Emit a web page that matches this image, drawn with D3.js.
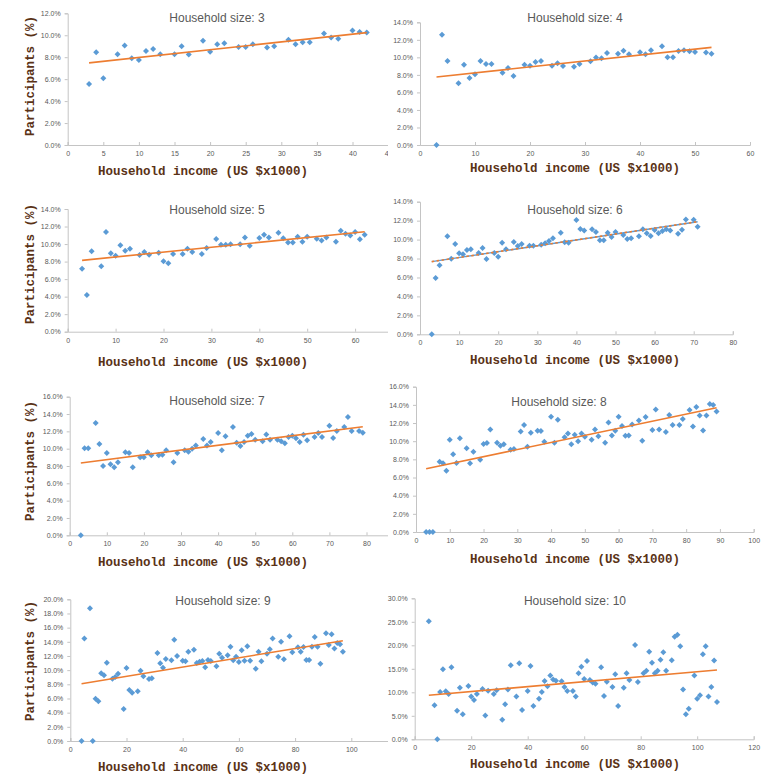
<!DOCTYPE html>
<html><head><meta charset="utf-8">
<script src="https://cdn.jsdelivr.net/npm/d3@7"></script>
<style>body{margin:0;background:#fff}svg{display:block}</style>
</head><body>
<svg id="c" width="763" height="777"></svg>
<script>
// ---- data (household income in US$ x1000, participants in %) ----
const income3 = [3,4,5,7,8,9,10,11,12,13,15,16,17,19,20,21,22,24,25,26,28,29,31,32,33,34,36,37,38,40,41,42];
const pct3 = [5.56,8.45,6.08,8.27,9.06,7.9,7.75,8.57,8.75,8.27,8.27,9.0,8.24,9.5,8.5,9.18,9.27,8.94,8.94,9.18,8.88,9.0,9.6,9.18,9.36,9.36,10.15,9.79,9.67,10.43,10.3,10.24];
const trend3 = [[3,7.48],[42,10.24]];

const income4 = [3,4,5,7,8,9,10,11,12,13,15,16,17,19,20,21,22,24,25,26,28,29,31,32,33,34,36,37,38,40,41,42,44,45,46,47,48,49,50,52,53];
const pct4 = [0,12.59,9.58,7.04,9.17,7.65,8.06,9.58,9.24,9.24,8.25,8.79,7.87,9.17,9.05,9.47,9.58,9.05,9.32,9.01,8.94,9.24,9.55,9.97,9.89,10.5,10.42,10.76,10.35,10.57,10.35,10.8,11.26,10.0,10.0,10.73,10.8,10.69,10.61,10.54,10.42];
const trend4 = [[3,7.76],[53,11.14]];

const income5 = [3,4,5,7,8,9,10,11,12,13,15,16,17,19,20,21,22,24,25,26,28,29,31,32,33,34,36,37,38,40,41,42,44,45,46,47,48,49,50,52,53,54,56,57,58,59,60,61,62];
const pct5 = [7.19,4.18,9.17,7.46,11.37,8.94,8.67,9.85,9.24,9.47,8.75,9.09,8.79,9.01,8.03,7.8,8.86,8.86,9.47,9.09,8.86,9.55,10.57,9.93,9.93,9.97,9.97,10.76,9.81,10.69,11.07,10.76,11.3,10.65,10.19,10.19,10.84,10.27,10.84,10.61,10.42,10.76,10.27,11.53,11.18,10.99,11.37,10.54,11.07];
const trend5 = [[3,8.14],[62,11.41]];

const income6 = [3,4,5,7,8,9,10,11,12,13,15,16,17,19,20,21,22,24,25,26,28,29,31,32,33,34,36,37,38,40,41,42,44,45,46,47,48,49,50,52,53,54,56,57,58,59,60,61,62,63,64,66,67,68,70,71];
const pct6 = [0,5.94,7.28,10.34,7.98,9.53,8.55,8.44,8.9,8.97,8.58,9.11,7.95,8.58,8.2,9.67,8.97,9.74,9.32,9.53,9.36,9.36,9.46,9.6,9.85,10.13,10.73,9.71,9.67,12.06,11.11,10.97,11.08,10.8,9.92,9.92,10.73,10.27,10.8,10.48,10.06,10.13,10.34,11.08,10.66,10.38,11.01,10.66,10.9,11.08,10.97,10.62,11.04,12.13,12.1,11.36];
const trend6 = [[3,7.67],[71,11.89]];

const income7 = [3,4,5,7,8,9,10,11,12,13,15,16,17,19,20,21,22,24,25,26,28,29,31,32,33,34,36,37,38,40,41,42,44,45,46,47,48,49,50,52,53,54,56,57,58,59,60,61,62,63,64,66,67,68,70,71,72,74,75,76,78,79];
const pct7 = [0,10.04,10.04,12.96,10.54,8.0,9.5,8.19,7.85,8.42,9.58,9.5,7.85,9.0,9.0,9.58,9.23,9.23,9.31,9.81,8.42,9.5,9.81,9.65,10.0,10.38,11.12,10.38,10.77,11.81,9.81,11.42,12.5,10.69,10.31,10.77,11.5,11.69,11.04,10.85,11.65,11.04,11.04,10.85,10.62,11.35,11.5,11.19,10.77,11.62,10.96,11.35,11.81,11.35,12.65,11.23,12.04,12.5,13.65,12.04,12.04,11.85];
const trend7 = [[3,8.35],[79,12.54]];

const income8 = [3,4,5,7,8,9,10,11,12,13,15,16,17,19,20,21,22,24,25,26,28,29,31,32,33,34,36,37,38,40,41,42,44,45,46,47,48,49,50,52,53,54,56,57,58,59,60,61,62,63,64,66,67,68,70,71,72,74,75,76,78,79,81,82,83,84,85,86,87,88,89];
const pct8 = [0,0,0,7.74,7.56,6.75,10.17,8.55,7.6,10.31,9.21,7.56,8.84,7.96,9.69,9.8,11.3,9.83,9.5,9.65,9.06,9.14,11.08,11.78,9.39,10.94,11.16,11.12,9.94,12.7,9.83,12.37,10.42,10.86,9.65,10.72,9.98,10.86,10.5,10.17,11.3,10.53,9.83,12.07,10.64,11.16,12.7,11.67,10.61,10.64,11.85,12.29,10.06,12.66,11.23,13.5,11.3,11.01,12.88,11.78,11.78,12.44,13.43,11.63,13.76,12.84,11.19,12.84,14.09,13.98,13.28];
const trend8 = [[3,6.97],[89,13.69]];

const income9 = [4,5,7,8,9,10,11,12,13,15,16,17,19,20,21,22,24,25,26,28,29,31,32,33,34,36,37,38,40,41,42,44,45,46,47,48,49,50,52,53,54,56,57,58,59,60,61,62,63,64,66,67,68,70,71,72,74,75,76,78,79,81,82,83,84,85,86,87,88,89,91,92,93,94,95,96,97];
const pct9 = [0,14.45,18.73,0,5.98,5.6,9.55,9.27,11.06,8.8,9.04,9.5,4.52,10.3,7.2,6.82,7.01,9.93,9.13,8.75,8.85,12.42,10.96,10.35,11.58,11.39,14.3,12.0,11.34,11.25,12.61,12.89,11.01,11.2,11.29,10.4,11.44,11.29,10.54,12.33,11.76,12.09,13.32,11.39,11.9,11.15,12.8,11.34,13.36,11.34,10.21,12.61,11.25,12.33,12.94,14.45,11.9,14.02,11.53,14.78,12.52,13.22,12.61,13.27,11.44,11.44,13.32,14.68,13.32,10.92,15.2,13.55,15.06,13.04,13.84,13.65,12.61];
const trend9 = [[4,8.09],[97,14.16]];

const income10 = [5,7,8,9,10,11,12,13,15,16,17,19,20,21,22,24,25,26,28,29,31,32,33,34,36,37,38,40,41,42,44,45,46,47,48,49,50,52,53,54,56,57,58,59,60,61,62,63,64,66,67,68,70,71,72,74,75,76,78,79,81,82,83,84,85,86,87,88,89,91,92,93,94,95,96,97,99,100,101,102,103,104,105,106,107];
const pct10 = [25.1,7.23,0,10.07,14.89,10.21,9.65,15.32,6.1,10.99,5.32,11.35,9.08,8.37,9.65,10.71,5.04,10.35,9.65,10.43,4.18,7.45,10.57,15.74,9.08,16.17,6.24,10.28,15.6,7.09,8.65,10.07,12.41,11.28,13.55,12.7,12.48,12.34,11.13,10.28,10.28,9.08,14.04,15.46,12.84,16.67,12.62,12.06,11.84,15.32,9.22,12.27,11.13,13.83,7.09,10.99,14.04,12.62,20.07,12.2,14.04,14.61,18.65,16.31,14.04,14.61,16.95,18.51,14.61,16.81,21.84,22.27,19.79,10.57,5.32,6.52,13.55,8.65,9.36,18.09,19.79,9.08,11.13,16.74,7.94];
const trend10 = [[5,9.36],[107,14.75]];

const householdSizes = [3,4,5,6,7,8,9,10];
const xTickSteps = [5,10,10,10,10,10,20,20];
const xMaxes = [45,60,70,80,90,100,120,120];
const yTickSteps = [2,2,2,2,2,2,2,5];
const yMaxes = [12,14,14,14,16,16,20,30];
const xTitle = "Household income (US $x1000)";
const yTitle = "Participants (%)";

// ---- layout (pixels) ----
const layout = [
  {x0:67.7, ppu:7.12,  y0:145,   yTop:13.3,  tx:217, ty:22,  xtx:203, xty:175, ytc:76,  left:true},
  {x0:420,  ppu:5.5,   y0:145,   yTop:22.3,  tx:575, ty:22,  xtx:575, xty:172, left:false},
  {x0:67.7, ppu:4.79,  y0:331.7, yTop:209,   tx:217, ty:214, xtx:203, xty:366, ytc:264, left:true},
  {x0:420,  ppu:3.91,  y0:334.3, yTop:201.7, tx:575, ty:214, xtx:575, xty:364, left:false},
  {x0:69.7, ppu:3.71,  y0:535.3, yTop:396.7, tx:217, ty:405, xtx:203, xty:566, ytc:461, left:true},
  {x0:416,  ppu:3.377, y0:532,   yTop:386.7, tx:559, ty:406, xtx:575, xty:563, left:false},
  {x0:70.3, ppu:2.81,  y0:741,   yTop:599.3, tx:223, ty:605, xtx:203, xty:771, ytc:661, left:true},
  {x0:414.7,ppu:2.825, y0:739.3, yTop:598.3, tx:575, ty:605, xtx:575, xty:768, left:false}
];
const rowTops = [0,0,190,190,380,380,570,570];
const rowHeights = [190,190,190,190,190,190,207,207];

const incomes = [income3,income4,income5,income6,income7,income8,income9,income10];
const pcts = [pct3,pct4,pct5,pct6,pct7,pct8,pct9,pct10];
const trends = [trend3,trend4,trend5,trend6,trend7,trend8,trend9,trend10];

const svg = d3.select("#c");
const axisColor = "#c4c4c4", tickTextColor = "#595959";
const blue = "#5b9bd5", orange = "#ed7d31", brown = "#5a3216";
const diamond = "M0,-3L3,0L0,3L-3,0Z";

householdSizes.forEach((size, i) => {
  const L = layout[i];
  const g = svg.append("g");
  if (!L.left) {
    g.append("rect").attr("x", 388).attr("y", rowTops[i]).attr("width", 763-388).attr("height", rowHeights[i]).attr("fill", "#fff");
  }
  const x = d3.scaleLinear().domain([0, xMaxes[i]]).range([L.x0, L.x0 + L.ppu * xMaxes[i]]);
  const y = d3.scaleLinear().domain([0, yMaxes[i]]).range([L.y0, L.yTop]);

  const xt = d3.range(0, xMaxes[i] + 0.001, xTickSteps[i]);
  const yt = d3.range(0, yMaxes[i] + 0.001, yTickSteps[i]);

  const xAxis = g.append("g").attr("transform", `translate(0,${L.y0})`)
    .call(d3.axisBottom(x).tickValues(xt).tickSize(-3).tickPadding(6).tickFormat(d3.format("d")));
  const yAxis = g.append("g").attr("transform", `translate(${L.x0},0)`)
    .call(d3.axisLeft(y).tickValues(yt).tickSize(3).tickPadding(4).tickFormat(d => d.toFixed(1) + "%"));
  [xAxis, yAxis].forEach(a => {
    a.select(".domain").attr("stroke", axisColor).attr("stroke-width", 1);
    a.selectAll(".tick line").attr("stroke", axisColor);
    a.selectAll(".tick text").attr("fill", tickTextColor).style("font-family", "Liberation Sans, Arial, sans-serif").style("font-size", "7px");
  });

  // points
  g.append("g").selectAll("path").data(incomes[i].map((v, k) => [v, pcts[i][k]])).join("path")
    .attr("d", diamond).attr("fill", blue)
    .attr("transform", d => `translate(${x(d[0])},${y(d[1])})`);

  // trendline
  const line = d3.line().x(d => x(d[0])).y(d => y(d[1]));
  if (size === 6) {
    g.append("path").attr("d", line(trends[i])).attr("stroke", blue).attr("stroke-width", 1.4).attr("fill", "none");
    g.append("path").attr("d", line(trends[i])).attr("stroke", orange).attr("stroke-width", 1.6).attr("stroke-dasharray", "2.5,2.5").attr("fill", "none");
  } else {
    g.append("path").attr("d", line(trends[i])).attr("stroke", orange).attr("stroke-width", 1.6).attr("fill", "none");
  }

  // titles
  g.append("text").attr("x", L.tx).attr("y", L.ty).attr("text-anchor", "middle")
    .attr("fill", "#595959").style("font-family", "Liberation Sans, Arial, sans-serif").style("font-size", "12px")
    .text("Household size: " + size);
  g.append("text").attr("x", L.xtx).attr("y", L.xty).attr("text-anchor", "middle")
    .attr("fill", brown).style("font-family", "Liberation Mono, Courier New, monospace").style("font-weight", "bold").style("font-size", "12.5px")
    .text(xTitle);
  if (L.left) {
    g.append("text").attr("transform", `translate(34,${L.ytc}) rotate(-90)`).attr("text-anchor", "middle")
      .attr("fill", brown).style("font-family", "Liberation Mono, Courier New, monospace").style("font-weight", "bold").style("font-size", "12.5px")
      .text(yTitle);
  }
});
</script>
</body></html>
